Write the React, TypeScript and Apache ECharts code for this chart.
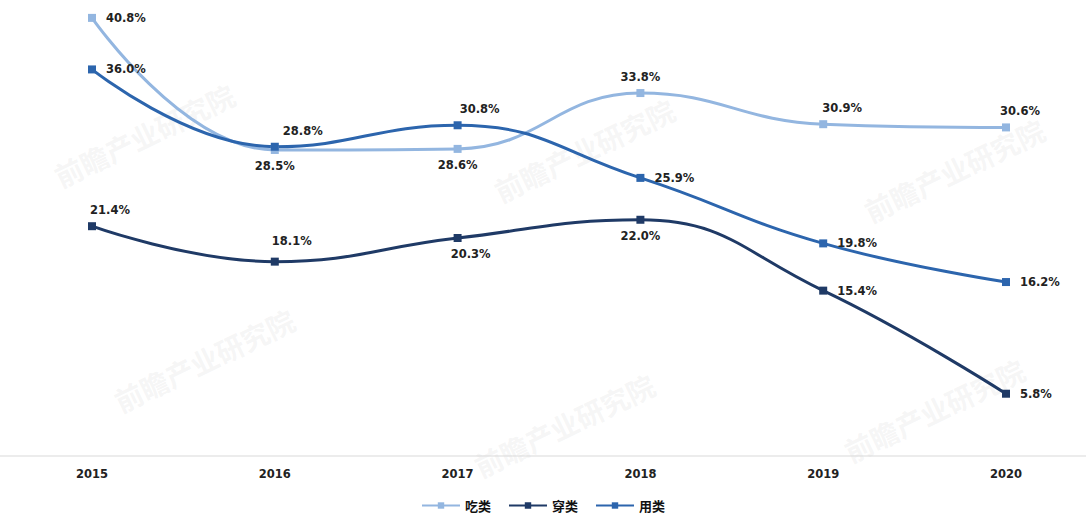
import React, { useEffect, useRef } from "react";
import * as echarts from "echarts";

const years = ["2015", "2016", "2017", "2018", "2019", "2020"];
const seriesNames = ["吃类", "穿类", "用类"];
const eatValues = [40.8, 28.5, 28.6, 33.8, 30.9, 30.6];
const wearValues = [21.4, 18.1, 20.3, 22.0, 15.4, 5.8];
const useValues = [36.0, 28.8, 30.8, 25.9, 19.8, 16.2];

const colors = ["#93b6e0", "#1f3a66", "#2c65ad"];

// label placement per point: [position, dx, dy]
type LP = [string, number, number];
const eatLabels: LP[] = [["right", 4, 0], ["bottom", 0, 0], ["bottom", 0, 0], ["top", 0, 0], ["top", 19, 0], ["top", 14, 0]];
const wearLabels: LP[] = [["top", 18, 0], ["top", 17, -5], ["bottom", 13, 0], ["bottom", 0, 0], ["right", 4, 0], ["right", 4, 0]];
const useLabels: LP[] = [["right", 4, 0], ["top", 28, 0], ["top", 22, 0], ["right", 4, 0], ["right", 4, 0], ["right", 4, 0]];

const labelFont = {
  fontFamily: "DejaVu Sans",
  fontWeight: "bold" as const,
  fontSize: 11.5,
  color: "#222",
};

function buildData(values: number[], labels: LP[]) {
  return values.map((v, i) => ({
    value: v,
    label: {
      show: true,
      position: labels[i][0],
      offset: [labels[i][1], labels[i][2]],
      distance: 6,
      formatter: (p: any) => p.value.toFixed(1) + "%",
      ...labelFont,
    },
  }));
}

const watermarks = [
  { x: 50, y: 165 },
  { x: 490, y: 180 },
  { x: 860, y: 200 },
  { x: 110, y: 390 },
  { x: 470, y: 455 },
  { x: 840, y: 440 },
];

export default function App() {
  const ref = useRef<HTMLDivElement>(null);
  useEffect(() => {
    if (!ref.current) return;
    const chart = echarts.init(ref.current, null, { renderer: "svg" });
    const seriesData = [
      buildData(eatValues, eatLabels),
      buildData(wearValues, wearLabels),
      buildData(useValues, useLabels),
    ];
    chart.setOption({
      animation: false,
      backgroundColor: "#ffffff",
      color: colors,
      grid: { left: 92, right: 80, top: 5, bottom: 63, containLabel: false },
      graphic: [
        ...watermarks.map((w) => ({
          type: "text",
          x: w.x,
          y: w.y,
          rotation: 0.45,
          z: -10,
          silent: true,
          style: {
            text: "前瞻产业研究院",
            fill: "rgba(190,190,190,0.14)",
            font: "bold 28px 'Noto Sans CJK SC'",
          },
        })),
        {
          type: "line",
          silent: true,
          shape: { x1: 0, y1: 456, x2: 1086, y2: 456 },
          style: { stroke: "#d9d9d9", lineWidth: 1 },
        },
      ],
      legend: {
        bottom: 2,
        left: "center",
        itemWidth: 38,
        itemHeight: 8,
        itemGap: 17,
        data: seriesNames,
        textStyle: {
          fontFamily: "Noto Sans CJK SC",
          fontWeight: "bold",
          fontSize: 13,
          color: "#111",
        },
      },
      xAxis: {
        type: "category",
        data: years,
        boundaryGap: false,
        axisLine: { show: false },
        axisTick: { show: false },
        axisLabel: {
          margin: 12,
          fontFamily: "DejaVu Sans",
          fontWeight: "bold",
          fontSize: 11.5,
          color: "#222",
        },
      },
      yAxis: {
        type: "value",
        min: 0,
        max: 42,
        show: false,
        splitLine: { show: false },
      },
      series: seriesNames.map((name, i) => ({
        name,
        type: "line",
        smooth: 0.45,
        symbol: "rect",
        symbolSize: 8,
        lineStyle: { width: 3, color: colors[i] },
        itemStyle: { color: colors[i] },
        data: seriesData[i],
      })),
    });
    return () => chart.dispose();
  }, []);
  return (
    <div
      ref={ref}
      style={{ position: "fixed", left: 0, top: 0, width: 1086, height: 519 }}
    />
  );
}
